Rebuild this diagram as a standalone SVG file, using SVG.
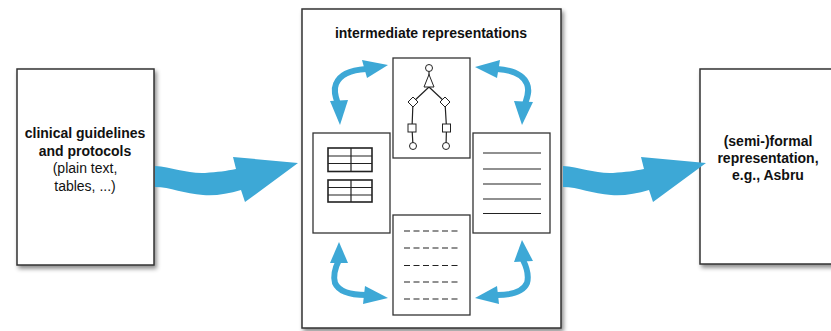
<svg xmlns="http://www.w3.org/2000/svg" width="831" height="331" viewBox="0 0 831 331">
  <defs>
    <filter id="shadow" x="-10%" y="-10%" width="130%" height="130%">
      <feDropShadow dx="2" dy="3" stdDeviation="2.2" flood-color="#000" flood-opacity="0.45"/>
    </filter>
    <!-- broad flow arrow, drawn at the left position and shifted for the right one -->
    <path id="flow" d="M155,166 C172,167 188,174 205,173 C218,172 226,171 236,169 L233,157 L298,163 L245,202 L241,190 C228,194 215,196 203,195 C185,194 170,187 155,187 Z"/>
  </defs>
  <style>
    .doc { fill: #fff; stroke: #333; stroke-width: 1.5; }
    .sub { fill: #fff; stroke: #333; stroke-width: 1.3; }
    .ink { fill: none; stroke: #222; stroke-width: 1.2; }
    .tbl { fill: #fff; stroke: #222; stroke-width: 1.6; }
    .gnode { fill: #fff; stroke: #222; stroke-width: 1; }
    .dash { stroke: #222; stroke-width: 1.2; stroke-dasharray: 6 3.5; }
    .flow { fill: #3DA8D6; }
    .loop { fill: none; stroke: #3DA8D6; stroke-width: 6; stroke-linecap: butt; }
    .head { fill: #3DA8D6; }
    text { font-family: "Liberation Sans", Arial, Helvetica, sans-serif; font-size: 14px; fill: #111; text-anchor: middle; }
    .b { font-weight: bold; }
  </style>

  <!-- outer documents -->
  <g id="guidelines">
    <rect class="doc" x="17" y="69" width="137" height="196" filter="url(#shadow)"/>
    <text class="b" x="85" y="138">clinical guidelines</text>
    <text class="b" x="85" y="155.5">and protocols</text>
    <text x="85" y="173">(plain text,</text>
    <text x="85" y="190.5">tables, ...)</text>
  </g>

  <g id="intermediate">
    <rect class="doc" x="302" y="9" width="259" height="319" filter="url(#shadow)"/>
    <text class="b" x="431" y="37.5">intermediate representations</text>
  </g>

  <g id="formal">
    <rect class="doc" x="700" y="69" width="140" height="195" filter="url(#shadow)"/>
    <text class="b" x="768" y="146">(semi-)formal</text>
    <text class="b" x="768" y="163">representation,</text>
    <text class="b" x="768" y="180">e.g., Asbru</text>
  </g>

  <!-- flowchart view -->
  <g id="graph-view">
    <rect class="sub" x="393" y="58" width="77" height="100"/>
    <path class="ink" d="M429,71.5 V75 M429,87 L413,102 M429,87 L445,102 M413,102 L412,128 M445,102 L446.5,128 M412,128 L413,146 M446.5,128 L446,146"/>
    <circle class="gnode" cx="429" cy="68" r="3.5"/>
    <polygon class="gnode" points="429,74.5 424,87 434,87"/>
    <polygon class="gnode" points="413,97 418,102 413,107 408,102"/>
    <polygon class="gnode" points="445,97 450,102 445,107 440,102"/>
    <rect class="gnode" x="408" y="124" width="8" height="8"/>
    <rect class="gnode" x="442.5" y="124" width="8" height="8"/>
    <circle class="gnode" cx="413" cy="146" r="3.5"/>
    <circle class="gnode" cx="446" cy="146" r="3.5"/>
  </g>

  <!-- table view -->
  <g id="table-view">
    <rect class="sub" x="313" y="133" width="77" height="100"/>
    <rect class="tbl" x="328" y="148" width="44" height="23.5"/>
    <path class="ink" d="M328,156 H372 M328,163.5 H372 M351,148 V171.5"/>
    <rect class="tbl" x="328" y="180" width="44" height="22"/>
    <path class="ink" d="M328,187.5 H372 M328,195 H372 M351,180 V202"/>
  </g>

  <!-- text view -->
  <g id="text-view">
    <rect class="sub" x="473" y="133" width="77" height="100"/>
    <path class="ink" d="M483,153 H541 M483,169 H541 M483,184 H541 M483,199 H541 M483,213.5 H541"/>
  </g>

  <!-- structured text view -->
  <g id="structured-view">
    <rect class="sub" x="393" y="215" width="77" height="100"/>
    <path class="dash" d="M404,231 H458 M404,248 H458 M404,265.5 H458 M404,282 H458 M404,299 H458"/>
  </g>

  <!-- connectors -->
  <g id="connectors">
    <use href="#flow" class="flow"/>
    <use href="#flow" class="flow" transform="translate(408,0)"/>

    <!-- top-left: graph <-> tables -->
    <path class="loop" d="M366,69 C350,70 340,74 336,84 C333,91 336,98 338,104"/>
    <polygon class="head" points="388,65 362,60 367,78"/>
    <polygon class="head" points="340,125 330,101 348,100"/>

    <!-- top-right: graph <-> text -->
    <path class="loop" d="M497,69 C513,70 523,74 527,84 C530,91 527,98 525,104"/>
    <polygon class="head" points="475,67 500,60 497,78"/>
    <polygon class="head" points="522,125 514,101 533,102"/>

    <!-- bottom-left: tables <-> structured text -->
    <path class="loop" d="M339,260 C335,268 333,276 335,283 C339,292 350,295 366,295"/>
    <polygon class="head" points="339,242 330,263 348,263"/>
    <polygon class="head" points="388,298 365,286 363,304"/>

    <!-- bottom-right: text <-> structured text -->
    <path class="loop" d="M523,260 C527,268 529,276 527,283 C523,292 512,295 497,295"/>
    <polygon class="head" points="522,240 514,262 533,261"/>
    <polygon class="head" points="475,298 497,286 499,304"/>
  </g>
</svg>
